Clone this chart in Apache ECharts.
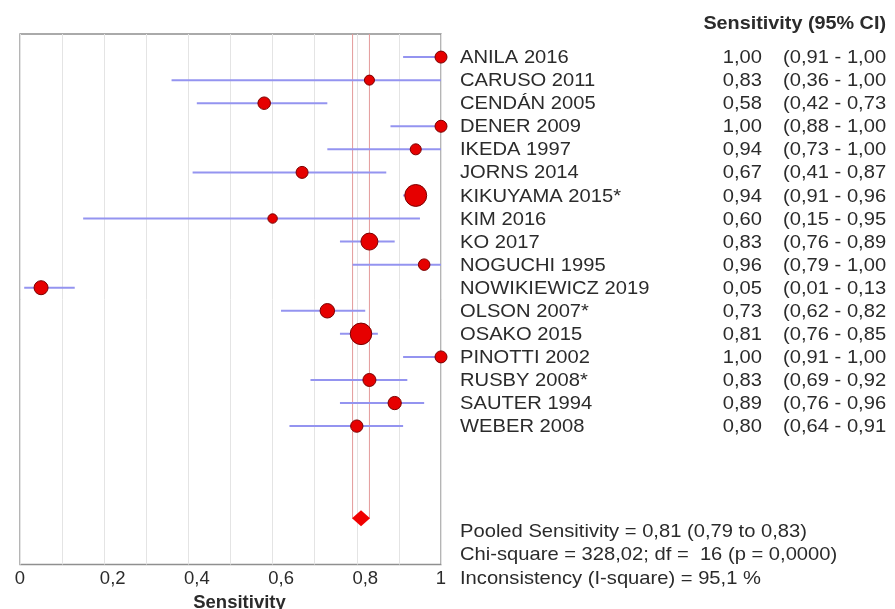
<!DOCTYPE html>
<html><head><meta charset="utf-8">
<script src="https://cdn.jsdelivr.net/npm/echarts@6/dist/echarts.min.js"></script>
<style>html,body{margin:0;padding:0;background:#fff}#c{width:895px;height:609px}</style>
</head><body><div id="c"></div>
<script>
const studies = ['ANILA 2016','CARUSO 2011','CENDÁN 2005','DENER 2009','IKEDA 1997','JORNS 2014','KIKUYAMA 2015*','KIM 2016','KO 2017','NOGUCHI 1995','NOWIKIEWICZ 2019','OLSON 2007*','OSAKO 2015','PINOTTI 2002','RUSBY 2008*','SAUTER 1994','WEBER 2008'];
const sensitivity = [1.00,0.83,0.58,1.00,0.94,0.67,0.94,0.60,0.83,0.96,0.05,0.73,0.81,1.00,0.83,0.89,0.80];
const ciLow  = [0.91,0.36,0.42,0.88,0.73,0.41,0.91,0.15,0.76,0.79,0.01,0.62,0.76,0.91,0.69,0.76,0.64];
const ciHigh = [1.00,1.00,0.73,1.00,1.00,0.87,0.96,0.95,0.89,1.00,0.13,0.82,0.85,1.00,0.92,0.96,0.91];
const studyWeight = [9.0,6.3,9.8,9.0,7.6,9.0,30,5.6,18,8.3,12.3,13.1,29,9.0,10.6,11,9.5];
const pooledSens = [0.81, 0.79, 0.83]; // estimate, low, high
const heterogeneity = { chi: '328,02', df: 16, p: '0,0000', i2: '95,1' };
const xTicks = [0, 0.2, 0.4, 0.6, 0.8, 1];

const fmt = v => v.toFixed(2).replace('.', ',');
const pooledRow = 20;
const FONT = 'Arial, "Liberation Sans", sans-serif';
const TXT = '#2b2b2b';
const SX = 1.09;

const chart = echarts.init(document.getElementById('c'), null, {renderer:'canvas'});

const ciData = studies.map((s,i)=>[ciLow[i], ciHigh[i], i]);
const pointData = studies.map((s,i)=>[sensitivity[i], i, studyWeight[i]]);
const tableData = studies.map((s,i)=>[0, i]);

const footText = (text, y) => ({type:'text', x:460, y:y, scaleX:SX,
  style:{text, font:'18.5px '+FONT, fill:TXT, textAlign:'left', textVerticalAlign:'middle'}});

const option = {
  animation: false,
  backgroundColor: '#fff',
  grid: [
    {left: 20, right: 454, top: 34, bottom: 44.5, outerBoundsMode:'none', containLabel:false,
     show: true, borderColor: '#8f8f8f', borderWidth: 1.3, backgroundColor: 'transparent'},
    {left: 441, right: 0, top: 34, bottom: 44.5, outerBoundsMode:'none', containLabel:false, show: false}
  ],
  xAxis: [
    {type:'value', gridIndex:0, min:0, max:1, interval:0.1,
     axisLine:{show:false}, axisTick:{show:false},
     splitLine:{show:true, lineStyle:{color:'#e4e4e4', width:1}},
     axisLabel:{margin:5, fontSize:18.5, fontFamily:FONT, color:TXT,
       formatter: v => {
         const r = Math.round(v*10)/10;
         if (!xTicks.some(t=>Math.abs(t-r)<1e-9)) return '';
         const s = String(r).replace('.', ',');
         return (r===0||r===1) ? '{e|'+s+'}' : '{s|'+s+'}';
       },
       rich:{ e:{fontSize:18.5, fontFamily:FONT, color:TXT}, s:{fontSize:18.5, fontFamily:FONT, color:TXT, padding:[0,0,0,17]} }
     },
     name:'Sensitivity', nameLocation:'middle', nameGap:26,
     nameTextStyle:{fontSize:18.5, fontWeight:'bold', fontFamily:FONT, color:TXT, padding:[0,0,0,18]}
    },
    {type:'value', gridIndex:1, min:0, max:454, show:false}
  ],
  yAxis: [
    {type:'value', gridIndex:0, min:-1, max:22, inverse:true, show:false},
    {type:'value', gridIndex:1, min:-1, max:22, inverse:true, show:false}
  ],
  graphic: [
    {type:'text', x: 886, y: 23.5, scaleX: 1.07,
     style:{text:'Sensitivity (95% CI)', font:'bold 18.5px '+FONT, fill:TXT, textAlign:'right', textVerticalAlign:'middle'}},
    footText('Pooled Sensitivity = '+fmt(pooledSens[0])+' ('+fmt(pooledSens[1])+' to '+fmt(pooledSens[2])+')', 531.5),
    footText('Chi-square = '+heterogeneity.chi+'; df =  '+heterogeneity.df+' (p = '+heterogeneity.p+')', 555),
    footText('Inconsistency (I-square) = '+heterogeneity.i2+' %', 579)
  ],
  series: [
    {type:'custom', name:'CI', xAxisIndex:0, yAxisIndex:0, z:2,
     encode:{x:[0,1], y:2}, data: ciData,
     renderItem:(params, api)=>{
       const a = api.coord([api.value(0), api.value(2)]);
       const b = api.coord([api.value(1), api.value(2)]);
       return {type:'line', shape:{x1:a[0], y1:a[1], x2:b[0], y2:b[1]}, style:{stroke:'#9494f0', lineWidth:2}};
     }},
    {type:'custom', name:'pooledCI', xAxisIndex:0, yAxisIndex:0, z:1,
     encode:{x:0, y:1}, data: [[pooledSens[1], pooledRow], [pooledSens[2], pooledRow]],
     renderItem:(params, api)=>{
       const top = api.coord([api.value(0), -1]);
       const bot = api.coord([api.value(0), api.value(1)]);
       return {type:'line', shape:{x1:top[0], y1:top[1], x2:bot[0], y2:bot[1]}, style:{stroke:'#e39a9a', lineWidth:1}};
     }},
    {type:'scatter', name:'Sensitivity', xAxisIndex:0, yAxisIndex:0, z:4,
     data: pointData,
     symbolSize: v => 4*Math.sqrt(v[2]),
     itemStyle:{color:'#e60000', borderColor:'#7a0000', borderWidth:1, opacity:1}},
    {type:'scatter', name:'Pooled', xAxisIndex:0, yAxisIndex:0, z:4,
     data: [[pooledSens[0], pooledRow]], symbol:'diamond', symbolSize:[18,16],
     itemStyle:{color:'#f00000', opacity:1}},
    {type:'custom', name:'table', xAxisIndex:1, yAxisIndex:1, z:3, clip:false,
     encode:{x:0, y:1}, data: tableData,
     renderItem:(params, api)=>{
       const i = params.dataIndex;
       const p = api.coord([0, api.value(1)]);
       const st = (text, align) => ({text, fill:TXT, font:'18.5px '+FONT, textAlign:align, textVerticalAlign:'middle'});
       return {type:'group', children:[
         {type:'text', x:p[0]+19, y:p[1]+1, scaleX:SX, style: st(studies[i], 'left')},
         {type:'text', x:p[0]+321, y:p[1]+1, scaleX:SX, style: st(fmt(sensitivity[i]), 'right')},
         {type:'text', x:p[0]+342, y:p[1]+1, scaleX:SX, style: st('('+fmt(ciLow[i])+' - '+fmt(ciHigh[i]), 'left')}
       ]};
     }}
  ]
};
chart.setOption(option);
</script></body></html>
